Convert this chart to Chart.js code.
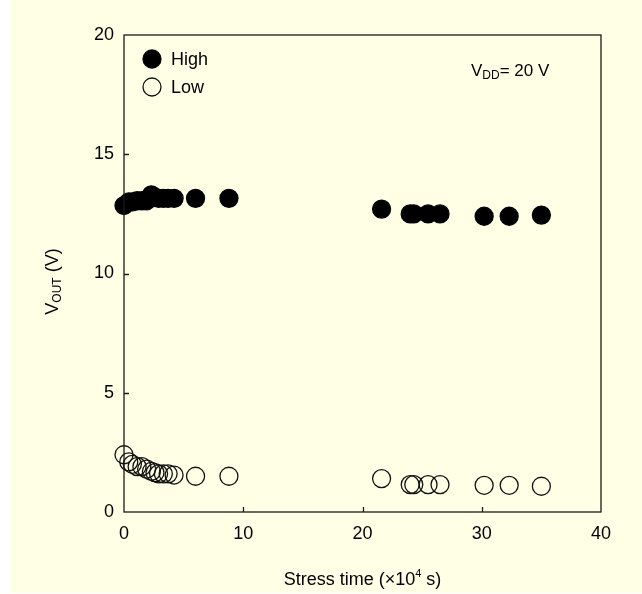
<!DOCTYPE html>
<html>
<head>
<meta charset="utf-8">
<script src="https://cdn.jsdelivr.net/npm/chart.js@4"></script>
<style>
  html, body { margin: 0; padding: 0; background: #ffffff; }
  #panel { position: absolute; left: 10px; top: 0; width: 632px; height: 593px; background: #ffffe6; }
  canvas { display: block; }
</style>
</head>
<body>
<div id="panel"><canvas id="vout" width="632" height="593"></canvas></div>
<script>
// stress time in units of 1e4 s
const stressTime = [0, 0.4, 0.7, 1.1, 1.5, 1.9, 2.3, 2.6, 2.9, 3.3, 3.7, 4.2, 6.0, 8.8, 21.6, 24.0, 24.3, 25.5, 26.5, 30.2, 32.3, 35.0];
const vHigh = [12.85, 13.0, 13.0, 13.05, 13.05, 13.05, 13.3, 13.2, 13.15, 13.15, 13.15, 13.15, 13.15, 13.15, 12.7, 12.5, 12.5, 12.5, 12.5, 12.4, 12.4, 12.45];
const vLow = [2.4, 2.1, 2.0, 1.9, 1.9, 1.8, 1.7, 1.65, 1.6, 1.6, 1.6, 1.55, 1.5, 1.5, 1.4, 1.15, 1.15, 1.15, 1.15, 1.12, 1.12, 1.08];
const seriesNames = ['High', 'Low'];
const xTicks = [0, 10, 20, 30, 40];
const yTicks = [0, 5, 10, 15, 20];

const FONT = 'Arial, "Liberation Sans", sans-serif';
const INK = '#1a1a1a';

function pts(xs, ys) {
    return xs.map((x, i) => ({ x: x, y: ys[i] }));
}

// draws a run of text pieces (for sub/superscripts), returns nothing
function drawRuns(ctx, parts, x, base) {
    parts.forEach(p => {
        ctx.font = p.f + 'px ' + FONT;
        ctx.fillText(p.t, x, base + p.dy);
        x += ctx.measureText(p.t).width;
    });
}
function runsWidth(ctx, parts) {
    let w = 0;
    parts.forEach(p => { ctx.font = p.f + 'px ' + FONT; w += ctx.measureText(p.t).width; });
    return w;
}

// frame, inward ticks, legend and the texts with sub/superscripts
const decorations = {
    id: 'decorations',
    afterDraw(chart) {
        const ctx = chart.ctx;
        const a = chart.chartArea;
        const xs = chart.scales.x, ys = chart.scales.y;
        ctx.save();

        ctx.strokeStyle = INK;
        ctx.lineWidth = 1.3;
        ctx.strokeRect(a.left, a.top, a.right - a.left, a.bottom - a.top);

        // small ticks pointing into the plot
        ctx.beginPath();
        xTicks.slice(1, -1).forEach(v => {
            const px = Math.round(xs.getPixelForValue(v)) + 0.5;
            ctx.moveTo(px, a.bottom);
            ctx.lineTo(px, a.bottom - 5);
        });
        yTicks.slice(1, -1).forEach(v => {
            const py = Math.round(ys.getPixelForValue(v)) + 0.5;
            ctx.moveTo(a.left, py);
            ctx.lineTo(a.left + 5, py);
        });
        ctx.stroke();

        // legend in the top-left corner
        ctx.textBaseline = 'middle';
        ctx.textAlign = 'left';
        ctx.font = '18px ' + FONT;
        chart.data.datasets.forEach((ds, i) => {
            const cy = a.top + 24 + i * 28;
            const cx = a.left + 28;
            ctx.beginPath();
            ctx.arc(cx, cy, 9, 0, Math.PI * 2);
            ctx.fillStyle = ds.backgroundColor;
            ctx.fill();
            ctx.lineWidth = 1.3;
            ctx.strokeStyle = ds.borderColor;
            ctx.stroke();
            ctx.fillStyle = '#000';
            ctx.fillText(ds.label, cx + 19, cy + 1);
        });

        // V_DD = 20 V
        ctx.fillStyle = '#000';
        ctx.textBaseline = 'alphabetic';
        drawRuns(ctx, [
            { t: 'V', f: 17, dy: 0 },
            { t: 'DD', f: 12, dy: 3 },
            { t: '= 20 V', f: 17, dy: 0 }
        ], a.left + 347, a.top + 41);

        // x axis title
        const xparts = [
            { t: 'Stress time (', f: 18, dy: 0 },
            { t: '\u00d7', f: 18, dy: 0 },
            { t: '10', f: 18, dy: 0 },
            { t: '4', f: 11, dy: -8 },
            { t: ' s)', f: 18, dy: 0 }
        ];
        drawRuns(ctx, xparts, (a.left + a.right) / 2 - runsWidth(ctx, xparts) / 2, a.bottom + 73);

        // y axis title, rotated
        const yparts = [
            { t: 'V', f: 18, dy: 0 },
            { t: 'OUT', f: 12, dy: 3 },
            { t: ' (V)', f: 18, dy: 0 }
        ];
        const yw = runsWidth(ctx, yparts);
        ctx.translate(a.left - 73, (a.top + a.bottom) / 2 + 8);
        ctx.rotate(-Math.PI / 2);
        drawRuns(ctx, yparts, -yw / 2, 7);

        ctx.restore();
    }
};

new Chart(document.getElementById('vout').getContext('2d'), {
    type: 'scatter',
    data: {
        datasets: [{
            label: seriesNames[0],
            data: pts(stressTime, vHigh),
            backgroundColor: '#000000',
            borderColor: '#000000',
            borderWidth: 1.3,
            pointRadius: 9,
            clip: false
        }, {
            label: seriesNames[1],
            data: pts(stressTime, vLow),
            backgroundColor: 'rgba(0,0,0,0)',
            borderColor: '#111111',
            borderWidth: 1.3,
            pointRadius: 9,
            clip: false
        }]
    },
    options: {
        responsive: false,
        animation: false,
        layout: { padding: { left: 0, right: 41, top: 35, bottom: 0 } },
        plugins: {
            legend: { display: false },
            tooltip: { enabled: false }
        },
        scales: {
            x: {
                type: 'linear',
                min: 0,
                max: 40,
                afterBuildTicks: s => { s.ticks = xTicks.map(v => ({ value: v })); },
                afterFit: s => { s.height = 81; },
                grid: { display: false, drawTicks: false },
                border: { display: false },
                ticks: { color: '#000', padding: 11, maxRotation: 0, font: { family: FONT, size: 18 } }
            },
            y: {
                type: 'linear',
                min: 0,
                max: 20,
                afterBuildTicks: s => { s.ticks = yTicks.map(v => ({ value: v })); },
                afterFit: s => { s.width = 114; },
                grid: { display: false, drawTicks: false },
                border: { display: false },
                ticks: { color: '#000', padding: 10, font: { family: FONT, size: 18 } }
            }
        }
    },
    plugins: [decorations]
});
</script>
</body>
</html>
